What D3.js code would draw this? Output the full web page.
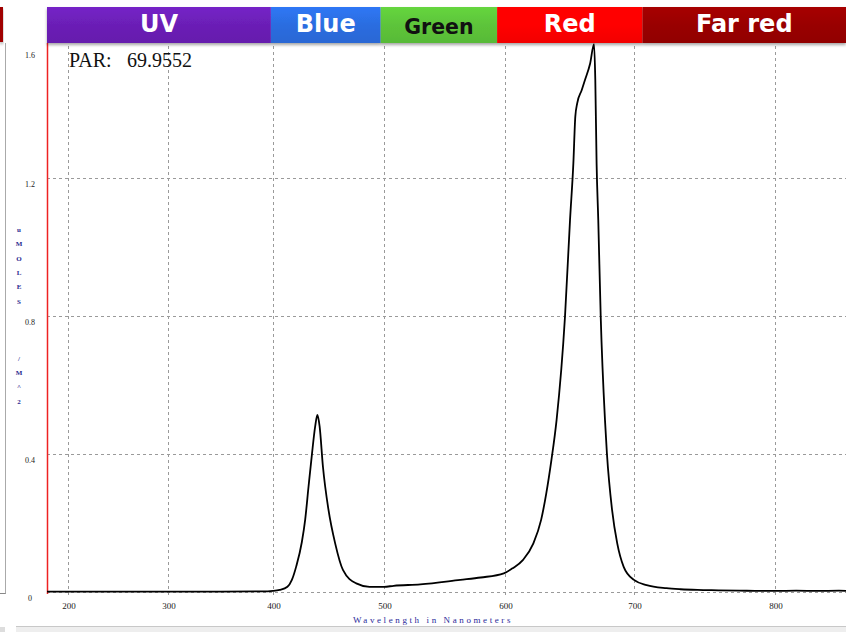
<!DOCTYPE html>
<html><head><meta charset="utf-8">
<script src="https://cdn.jsdelivr.net/npm/d3@7"></script>
<style>html,body{margin:0;padding:0;background:#fff;overflow:hidden}</style>
</head><body>
<svg id="c" width="846" height="632"></svg>
<script>
// ---- data ----
const xTicks = [200, 300, 400, 500, 600, 700, 800];
const yTicks = [0, 0.4, 0.8, 1.2, 1.6];
const yTickLabels = ["0", "0.4", "0.8", "1.2", "1.6"];
const wavelength = [179,200,250,300,350,395,400,406,413,417,421,426,429,432,435,438,440,442,445,450,456,463,475,487,500,508,530,563,580,599,606,614,622,628,632,636,640,646.5,650.4,653,654.5,656,659.5,662,666,669,670,671,672.3,674.2,677.5,679,683,687,692,700,709,723,733,745,760,775,790,800,815,830,845,850];
const umoles =     [0.001,0.001,0.001,0.001,0.001,0.002,0.003,0.006,0.015,0.035,0.075,0.145,0.21,0.305,0.397,0.48,0.513,0.48,0.363,0.238,0.141,0.064,0.025,0.015,0.015,0.018,0.022,0.035,0.042,0.054,0.069,0.093,0.141,0.209,0.286,0.383,0.499,0.798,1.078,1.243,1.378,1.417,1.455,1.484,1.532,1.588,1.484,1.243,1.078,0.798,0.499,0.402,0.238,0.141,0.073,0.035,0.020,0.011,0.008,0.006,0.005,0.004,0.003,0.003,0.004,0.003,0.004,0.003];
const bandNames = ["UV", "Blue", "Green", "Red", "Far red"];
const bandStart = [179, 398, 497, 593.5, 706];
const bandEnd   = [398, 497, 593.5, 706, 850];
const bandColors = ["#6b1fb6", "#2b6de0", "#5dc43a", "#ff0000", "#990000"];
const bandText = ["#ffffff", "#ffffff", "#111111", "#ffffff", "#ffffff"];
const parLabel = "PAR:";
const parValue = "69.9552";
const yTitle = ["u","M","O","L","E","S","","","","/","M","^","2"];
const xTitle = "Wavelength in Nanometers";

// ---- scales ----
const x = d3.scaleLinear()
  .domain([179, 200, 300, 400, 500, 600, 700, 800, 850])
  .range([47, 68, 168, 273, 384, 505, 634, 775, 846]);
const y = d3.scaleLinear().domain([0, 1.6]).range([592, 40]);

const svg = d3.select("#c");
const defs = svg.append("defs");
const f = defs.append("filter").attr("id","sh").attr("x","-5%").attr("y","-20%").attr("width","110%").attr("height","160%");
f.append("feDropShadow").attr("dx",0).attr("dy",2).attr("stdDeviation",1.6).attr("flood-color","#000").attr("flood-opacity",0.35);
bandColors.forEach((c,i)=>{
  const g = defs.append("linearGradient").attr("id","g"+i).attr("x1",0).attr("y1",0).attr("x2",0).attr("y2",1);
  g.append("stop").attr("offset","0").attr("stop-color", d3.color(c).brighter(0.25));
  g.append("stop").attr("offset","0.5").attr("stop-color", c);
  g.append("stop").attr("offset","1").attr("stop-color", d3.color(c).darker(0.15));
});

// window frame bits
svg.append("line").attr("x1",5.5).attr("x2",5.5).attr("y1",43).attr("y2",594).attr("stroke","#aaa").attr("stroke-width",1);
svg.append("line").attr("x1",0).attr("x2",5.5).attr("y1",593.5).attr("y2",593.5).attr("stroke","#888");
svg.append("rect").attr("x",0).attr("y",7).attr("width",3).attr("height",35).attr("fill","#a00000").attr("filter","url(#sh)");

// grid
const grid = svg.append("g").attr("stroke","#9a9a9a").attr("stroke-dasharray","3,3").attr("stroke-width",1);
grid.selectAll("line.v").data(xTicks).join("line").attr("class","v")
  .attr("x1",d=>Math.round(x(d))+0.5).attr("x2",d=>Math.round(x(d))+0.5)
  .attr("y1",y(1.6)).attr("y2",y(0)+6);
grid.selectAll("line.h").data(yTicks.slice(0,4)).join("line").attr("class","h")
  .attr("x1",x(179)).attr("x2",846)
  .attr("y1",d=>Math.round(y(d))+0.5).attr("y2",d=>Math.round(y(d))+0.5);

// y axis red line
svg.append("line").attr("x1",x(179)+0.5).attr("x2",x(179)+0.5).attr("y1",43).attr("y2",y(0)+2)
  .attr("stroke","#ee2222").attr("stroke-width",1.5);

// y tick labels
svg.append("g").selectAll("text").data(yTicks).join("text")
  .attr("x",30).attr("y",(d)=>Math.max(y(d)+9, 58))
  .attr("text-anchor","middle").attr("font-family","Liberation Serif, serif")
  .attr("font-size",8).attr("fill","#222").text((d,i)=>yTickLabels[i]);

// x tick labels
svg.append("g").selectAll("text").data(xTicks).join("text")
  .attr("x",d=>x(d)+1).attr("y",609)
  .attr("text-anchor","middle").attr("font-family","Liberation Serif, serif")
  .attr("font-size",9).attr("fill","#222").text(d=>d);

// axis titles
svg.append("g").selectAll("text").data(yTitle).join("text")
  .attr("x",19).attr("y",(d,i)=>232+i*14.3)
  .attr("text-anchor","middle").attr("font-family","Liberation Serif, serif").attr("font-weight","bold")
  .attr("font-size",7).attr("fill","#2a2a90").text(d=>d);
svg.append("text").attr("x",433).attr("y",623).attr("text-anchor","middle")
  .attr("font-family","Liberation Serif, serif").attr("font-size",9).attr("letter-spacing","2.6px")
  .attr("fill","#2a2a9a").text(xTitle);

// curve
const pts = wavelength.map((w,i)=>[w, umoles[i]]);
svg.append("path").datum(pts)
  .attr("fill","none").attr("stroke","#000").attr("stroke-width",1.8).attr("stroke-linejoin","round")
  .attr("d", d3.line().x(d=>x(d[0])).y(d=>y(d[1])).curve(d3.curveMonotoneX));

// header bands
const hb = svg.append("g").attr("filter","url(#sh)");
hb.selectAll("rect").data(bandNames).join("rect")
  .attr("x",(d,i)=>x(bandStart[i])).attr("y",7)
  .attr("width",(d,i)=>x(bandEnd[i])-x(bandStart[i])).attr("height",36)
  .attr("fill",(d,i)=>"url(#g"+i+")");
svg.append("g").selectAll("text").data(bandNames).join("text")
  .attr("x",(d,i)=>(x(bandStart[i])+x(bandEnd[i]))/2)
  .attr("y",(d,i)=> d==="Green" ? 34 : 32)
  .attr("text-anchor","middle").attr("font-family","DejaVu Sans, sans-serif").attr("font-weight","bold")
  .attr("font-size",(d)=> d==="Green" ? 20.5 : 24)
  .attr("fill",(d,i)=>bandText[i]).text(d=>d);

// PAR
svg.append("text").attr("x",69).attr("y",67).attr("font-family","Liberation Serif, serif").attr("font-size",20).attr("fill","#111").text(parLabel);
svg.append("text").attr("x",127).attr("y",67).attr("font-family","Liberation Serif, serif").attr("font-size",20).attr("fill","#111").text(parValue);

// status bar
svg.append("rect").attr("x",16).attr("y",627).attr("width",830).attr("height",5).attr("fill","#eeeeee");
svg.append("line").attr("x1",16).attr("x2",846).attr("y1",626.5).attr("y2",626.5).attr("stroke","#c8c8c8");
svg.append("rect").attr("x",0).attr("y",627).attr("width",5).attr("height",5).attr("fill","#dddddd");
</script>
</body></html>
